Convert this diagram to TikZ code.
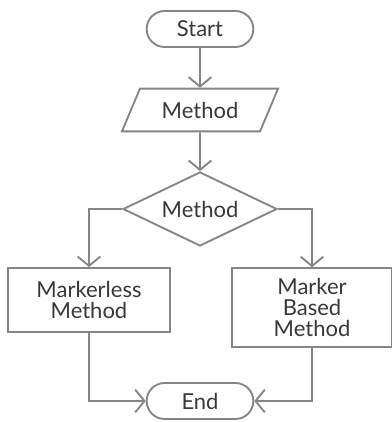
\documentclass[tikz,border=0pt]{standalone}
\usepackage{fontspec}
\setmainfont{Lato}
\usetikzlibrary{shapes.geometric,shapes.misc,arrows.meta}

\definecolor{linegray}{HTML}{858585}
\definecolor{textgray}{HTML}{383838}

\tikzset{
  base/.style={draw=linegray, line width=1.4pt, text=textgray, font=\fontsize{16.5}{16}\selectfont, align=center, inner sep=0pt},
  terminal/.style={base, rounded rectangle, minimum width=80pt, minimum height=27pt},
  inout/.style={base, trapezium, trapezium left angle=55, trapezium right angle=125, trapezium stretches=true, minimum width=118pt, minimum height=32pt},
  decision/.style={base, diamond, aspect=2, minimum width=115.5pt, minimum height=55.5pt},
  process/.style={base, rectangle, minimum width=121pt},
  flow/.style={draw=linegray, line width=1.4pt, -{Straight Barb[length=7pt, width=17pt]}}
}

\begin{document}
\begin{tikzpicture}[x=0.75pt, y=-0.75pt]
      \useasboundingbox (0, 0) rectangle (392, 422);

      % Inicio
      \node[terminal] (start) at (200, 29) {Start};

      % Entrada
      \node[inout] (input) at (200, 110) {Method};

      % Decisao
      \node[decision] (choice) at (200, 209) {Method};

      % Metodos
      \node[process, minimum height=48pt] (markerless) at (89, 300) {Markerless\\Method};
      \node[process, minimum width=120pt, minimum height=59pt] (marker) at (312, 307.5) {Marker\\Based\\Method};

      % Fim
      \node[terminal] (end) at (200, 401) {End};

      % Setas
      \draw[flow] (start) -- (input);
      \draw[flow] (input) -- (choice);
      \draw[flow] (choice.west) -| (markerless.north);
      \draw[flow] (choice.east) -| (marker.north);
      \draw[flow] (markerless.south) |- (end.west);
      \draw[flow] (marker.south) |- (end.east);
    \end{tikzpicture}
\end{document}
